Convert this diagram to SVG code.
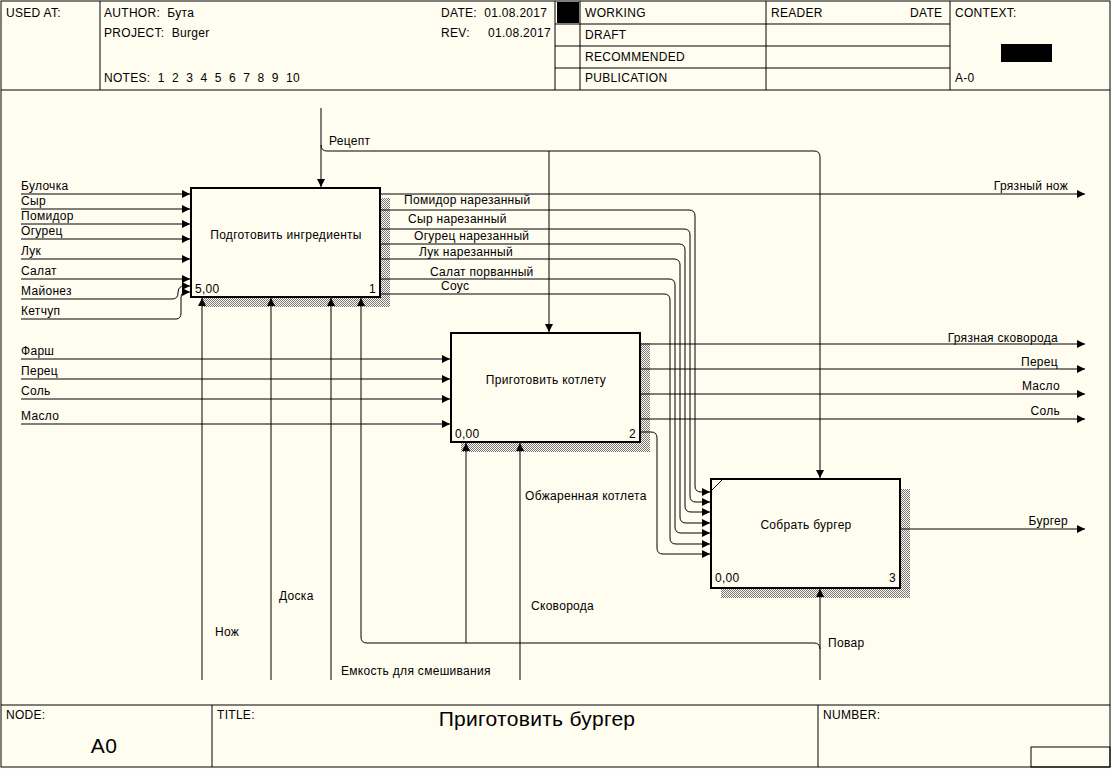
<svg xmlns="http://www.w3.org/2000/svg" width="1111" height="769" viewBox="0 0 1111 769">
<defs>
<pattern id="hatch" width="2" height="2" patternUnits="userSpaceOnUse"><rect width="2" height="2" fill="#fffcf0"/><rect width="1" height="1" fill="#777"/><rect x="1" y="1" width="1" height="1" fill="#777"/></pattern>
<marker id="a" viewBox="0 0 10 10" refX="10" refY="5" markerWidth="10" markerHeight="8" markerUnits="userSpaceOnUse" orient="auto"><path d="M0,0L10,5L0,10z" fill="#000"/></marker>
</defs>
<style>
text{font-family:"Liberation Sans",Arial,sans-serif;font-size:12px;fill:#000;letter-spacing:0.3px;white-space:pre}
.f{fill:none;stroke:#000;stroke-width:1}
.c path{fill:none;stroke:#000;stroke-width:1;marker-end:url(#a)}
.c path.n{marker-end:none}
.box{fill:#fffcf0;stroke:#000;stroke-width:2}
.sh{fill:url(#hatch)}
.t{text-anchor:middle}
.e{text-anchor:end}
</style>
<rect width="1111" height="769" fill="#fffcf0"/>
<g id="frame">
<rect x="1" y="1" width="1109" height="766" class="f"/>
<line x1="1" y1="90" x2="1110" y2="90" class="f"/>
<line x1="100" y1="1" x2="100" y2="90" class="f"/>
<line x1="555" y1="1" x2="555" y2="90" class="f"/>
<line x1="580" y1="1" x2="580" y2="90" class="f"/>
<line x1="766" y1="1" x2="766" y2="90" class="f"/>
<line x1="950" y1="1" x2="950" y2="90" class="f"/>
<line x1="555" y1="24" x2="950" y2="24" class="f"/>
<line x1="555" y1="46" x2="950" y2="46" class="f"/>
<line x1="555" y1="68" x2="950" y2="68" class="f"/>
<rect x="557" y="2" width="22" height="21" fill="#000"/>
<rect x="1001" y="44" width="51" height="18" fill="#000"/>
<text x="6" y="17">USED AT:</text>
<text x="104" y="17">AUTHOR:  Бута</text>
<text x="104" y="37">PROJECT:  Burger</text>
<text x="104" y="82">NOTES:  1  2  3  4  5  6  7  8  9  10</text>
<text x="441" y="17">DATE:  01.08.2017</text>
<text x="441" y="37">REV:     01.08.2017</text>
<text x="585" y="17">WORKING</text>
<text x="585" y="39">DRAFT</text>
<text x="585" y="61">RECOMMENDED</text>
<text x="585" y="82">PUBLICATION</text>
<text x="771" y="17">READER</text>
<text x="910" y="17">DATE</text>
<text x="955" y="17">CONTEXT:</text>
<text x="955" y="82">A-0</text>
<line x1="1" y1="705" x2="1110" y2="705" class="f"/>
<line x1="212" y1="705" x2="212" y2="767" class="f"/>
<line x1="818" y1="705" x2="818" y2="767" class="f"/>
<rect x="1031" y="747" width="79" height="20" class="f"/>
<text x="6" y="719">NODE:</text>
<text x="217" y="719">TITLE:</text>
<text x="823" y="719">NUMBER:</text>
<text x="104" y="753" class="t" style="font-size:21px">A0</text>
<text x="537" y="726" class="t" style="font-size:21px">Приготовить бургер</text>
</g>
<g id="node1">
<rect x="201" y="198" width="189" height="109" class="sh"/>
<rect x="191" y="188" width="189" height="109" class="box"/>
<text x="286" y="239" class="t">Подготовить ингредиенты</text>
<text x="195" y="293">5,00</text>
<text x="376" y="293" class="e">1</text>
</g>
<g id="node2">
<rect x="461" y="343" width="189" height="109" class="sh"/>
<rect x="451" y="333" width="189" height="109" class="box"/>
<text x="546" y="384" class="t">Приготовить котлету</text>
<text x="455" y="438">0,00</text>
<text x="636" y="438" class="e">2</text>
</g>
<g id="node3">
<rect x="721" y="489" width="189" height="109" class="sh"/>
<rect x="711" y="479" width="189" height="109" class="box"/>
<line x1="711" y1="491" x2="723" y2="479" class="f"/>
<text x="806" y="529" class="t">Собрать бургер</text>
<text x="715" y="582">0,00</text>
<text x="896" y="582" class="e">3</text>
</g>
<g class="c" id="connectors">
<path d="M21,194H190"/><path d="M21,209H190"/><path d="M21,224H190"/><path d="M21,239H190"/>
<path d="M21,259H190"/><path d="M21,279H190"/>
<path d="M21,299H172Q178,299 178,293Q178,286 184,286H190"/>
<path d="M21,319H176Q181,319 181,313V298Q181,292 186,292H190"/>
<path d="M21,359H450"/><path d="M21,379H450"/><path d="M21,399H450"/><path d="M21,424H450"/>
<path d="M321,108V187"/>
<path class="n" d="M321,145Q321,151 327,151H814Q820,151 820,157"/>
<path d="M549,151V332"/>
<path d="M820,157V478"/>
<path d="M202,680V298"/><path d="M271,680V298"/><path d="M331,680V298"/><path d="M520,680V443"/>
<path d="M820,680V589"/>
<path class="n" d="M820,649Q820,643 814,643H367Q361,643 361,637"/>
<path d="M361,637V298"/>
<path d="M466,643V443"/>
<path d="M381,194H1085"/>
<path d="M381,210H689Q695,210 695,216V486Q695,492 701,492H710"/>
<path d="M381,229H684Q690,229 690,235V496Q690,502 696,502H710"/>
<path d="M381,244H679Q685,244 685,250V506Q685,512 691,512H710"/>
<path d="M381,259H674Q680,259 680,265V517Q680,523 686,523H710"/>
<path d="M381,279H669Q675,279 675,285V527Q675,533 681,533H710"/>
<path d="M381,294H664Q670,294 670,300V538Q670,544 676,544H710"/>
<path d="M641,432H651Q657,432 657,438V548Q657,554 663,554H710"/>
<path d="M641,344H1085"/><path d="M641,369H1085"/><path d="M641,394H1085"/><path d="M641,419H1085"/>
<path d="M901,529H1085"/>
</g>
<g id="labels">
<text x="21" y="190">Булочка</text><text x="21" y="205">Сыр</text><text x="21" y="220">Помидор</text><text x="21" y="235">Огурец</text>
<text x="21" y="255">Лук</text><text x="21" y="275">Салат</text><text x="21" y="295">Майонез</text><text x="21" y="315">Кетчуп</text>
<text x="21" y="355">Фарш</text><text x="21" y="375">Перец</text><text x="21" y="395">Соль</text><text x="21" y="420">Масло</text>
<text x="329" y="145">Рецепт</text>
<text x="404" y="204">Помидор нарезанный</text>
<text x="408" y="223">Сыр нарезанный</text>
<text x="414" y="240">Огурец нарезанный</text>
<text x="419" y="256">Лук нарезанный</text>
<text x="430" y="276">Салат порванный</text>
<text x="441" y="290">Соус</text>
<text x="1068" y="190" class="e">Грязный нож</text>
<text x="1058" y="342" class="e">Грязная сковорода</text>
<text x="1058" y="366" class="e">Перец</text>
<text x="1060" y="390" class="e">Масло</text>
<text x="1060" y="415" class="e">Соль</text>
<text x="1068" y="525" class="e">Бургер</text>
<text x="525" y="500">Обжаренная котлета</text>
<text x="215" y="636">Нож</text>
<text x="279" y="600">Доска</text>
<text x="341" y="675">Емкость для смешивания</text>
<text x="531" y="610">Сковорода</text>
<text x="828" y="647">Повар</text>
</g>
</svg>
